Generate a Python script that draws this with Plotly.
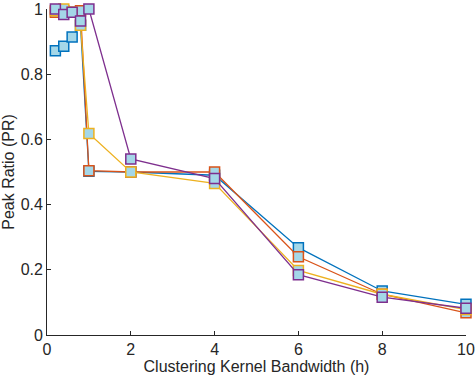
import plotly.graph_objects as go

h = [0.2, 0.4, 0.6, 0.8, 1, 2, 4, 6, 8, 10]

pr_blue = [0.872, 0.886, 0.914, 0.95, 0.502, 0.50, 0.49, 0.268, 0.135, 0.094]
pr_orange = [0.99, 0.995, 0.99, 0.995, 0.504, 0.50, 0.50, 0.240, 0.125, 0.068]
pr_yellow = [0.995, 1.0, 0.99, 0.95, 0.618, 0.50, 0.465, 0.198, 0.125, 0.078]
pr_purple = [1.0, 0.983, 0.99, 0.963, 1.0, 0.540, 0.48, 0.185, 0.116, 0.082]

series = [
    (pr_blue, '#0072BD'),
    (pr_orange, '#D95319'),
    (pr_yellow, '#EDB120'),
    (pr_purple, '#7E2F8E'),
]

fig = go.Figure()
for vals, col in series:
    fig.add_trace(go.Scatter(
        x=h, y=vals, mode='lines+markers',
        line=dict(color=col, width=1.3),
        marker=dict(symbol='square', size=10, color='#A4D7E8',
                    line=dict(color=col, width=1.5)),
        showlegend=False, cliponaxis=False,
    ))

font_name = 'Liberation Sans, Arial'
axis_style = dict(
    showgrid=False, zeroline=False, showline=True, linecolor='#262626',
    linewidth=0.8, ticks='inside', ticklen=4, tickcolor='#262626',
    tickfont=dict(family=font_name, size=16, color='#262626'),
    ticklabeloverflow='allow', mirror=False, automargin=False,
)

fig.update_layout(
    width=476, height=382,
    margin=dict(l=47, r=10, t=9, b=47),
    paper_bgcolor='white', plot_bgcolor='white',
    xaxis=dict(range=[0, 10], tickvals=[0, 2, 4, 6, 8, 10],
               title=dict(text='Clustering Kernel Bandwidth (h)', standoff=2,
                          font=dict(family=font_name, size=16, color='#262626')),
               **axis_style),
    yaxis=dict(range=[0, 1], tickvals=[0, 0.2, 0.4, 0.6, 0.8, 1],
               ticktext=['0', '0.2', '0.4', '0.6', '0.8', '1'],
               title=dict(text='Peak Ratio (PR)', standoff=2,
                          font=dict(family=font_name, size=16, color='#262626')),
               **axis_style),
)

# page has a default body margin; drop it so the figure sits at the window corner
fig.write_html("out.html", config={'displayModeBar': False},
               post_script="document.body.style.margin='0px';")
